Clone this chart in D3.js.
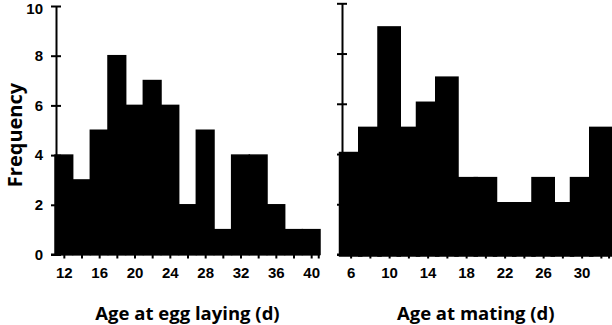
<!DOCTYPE html>
<html>
<head>
<meta charset="utf-8">
<script src="https://cdn.jsdelivr.net/npm/d3@7"></script>
<style>
  body { margin: 0; background: #fff; }
  svg { display: block; }
</style>
</head>
<body>
<svg width="612" height="325"></svg>
<script>
// histogram bins (bin centres, 2 d wide) and counts
let eggBins = [12, 14, 16, 18, 20, 22, 24, 26, 28, 30, 32, 34, 36, 38, 40];
let eggCounts = [4, 3, 5, 8, 6, 7, 6, 2, 5, 1, 4, 4, 2, 1, 1];
let eggTickLabels = [12, 16, 20, 24, 28, 32, 36, 40];

let matingBins = [6, 8, 10, 12, 14, 16, 18, 20, 22, 24, 26, 28, 30, 32];
let matingCounts = [4, 5, 9, 5, 6, 7, 3, 3, 2, 2, 3, 2, 3, 5];
let matingTickLabels = [6, 10, 14, 18, 22, 26, 30];

let yTicks = [0, 2, 4, 6, 8, 10];

let svg = d3.select("svg");
let tickFont = "'Liberation Sans', Arial, sans-serif";
let titleFont = "'Open Sans', 'Noto Sans', sans-serif";

function drawPanel(opts) {
  let g = svg.append("g");
  let xScale = d3.scaleLinear().domain(opts.domain).range(opts.xRange);
  let yScale = d3.scaleLinear().domain([0, 10]).range([254.5, opts.yTop]);
  let data = opts.bins.map((b, i) => ({bin: b, count: opts.counts[i]}));

  g.selectAll("rect.bar")
    .data(data)
    .join("rect")
    .attr("class", "bar")
    .attr("x", d => xScale(d.bin - 1))
    .attr("width", d => xScale(d.bin + 1) - xScale(d.bin - 1))
    .attr("y", d => yScale(d.count))
    .attr("height", d => yScale(0) - yScale(d.count))
    .style("fill", "#000")
    .style("stroke", "#000")
    .style("stroke-width", opts.barStroke)
    .style("stroke-linejoin", "miter");

  // y axis, ticks crossing the line
  let yAxis = d3.axisLeft(yScale)
    .tickValues(yTicks)
    .tickSizeOuter(0)
    .tickSizeInner(5)
    .tickPadding(8)
    .tickFormat(opts.yLabels ? d3.format("d") : "");
  let ya = g.append("g")
    .attr("transform", `translate(${opts.xRange[0] + 1},0)`)
    .call(yAxis);
  ya.selectAll(".tick line").attr("x1", 5);
  ya.selectAll("line, path").style("stroke", "#000").style("stroke-width", 2);
  ya.selectAll("text")
    .style("font-family", tickFont)
    .style("font-weight", "bold")
    .style("font-size", "15px")
    .style("fill", "#000");
  // keep the top label inside the picture
  ya.selectAll(".tick text").filter(d => d === 10).attr("dy", "0.5em");

  // x axis, ticks at bin centres plus the end
  let xAxis = d3.axisBottom(xScale)
    .tickValues(opts.bins.concat([opts.domain[1] - 0.2]))
    .tickSizeOuter(0)
    .tickSizeInner(4)
    .tickPadding(9)
    .tickFormat(d => opts.tickLabels.includes(d) ? d : "");
  let xa = g.append("g")
    .attr("transform", `translate(0,${yScale(0)})`)
    .call(xAxis);
  xa.select(".domain").remove();
  xa.append("line")
    .attr("x1", opts.xRange[0] - 4)
    .attr("x2", opts.xRange[1])
    .attr("y1", 0).attr("y2", 0);
  xa.selectAll("line").style("stroke", "#000").style("stroke-width", 2);
  xa.selectAll("text")
    .style("font-family", tickFont)
    .style("font-weight", "bold")
    .style("font-size", "15px")
    .style("fill", "#000");

  g.append("text")
    .attr("x", (opts.xRange[0] + opts.xRange[1]) / 2)
    .attr("y", 320)
    .attr("text-anchor", "middle")
    .style("font-family", titleFont)
    .style("font-weight", 700)
    .style("font-size", "18.5px")
    .text(opts.title);
}

drawPanel({
  bins: eggBins, counts: eggCounts, tickLabels: eggTickLabels,
  domain: [11, 41], xRange: [55, 320], yTop: 6,
  barStroke: 1.5, yLabels: true, title: "Age at egg laying (d)"
});

drawPanel({
  bins: matingBins, counts: matingCounts, tickLabels: matingTickLabels,
  domain: [5, 33], xRange: [341, 610.5], yTop: 3.3,
  barStroke: 4.5, yLabels: false, title: "Age at mating (d)"
});

svg.append("text")
  .attr("transform", "translate(22,135) rotate(-90)")
  .attr("text-anchor", "middle")
  .style("font-family", titleFont)
  .style("font-weight", "bold")
  .style("font-size", "20px")
  .text("Frequency");
</script>
</body>
</html>
